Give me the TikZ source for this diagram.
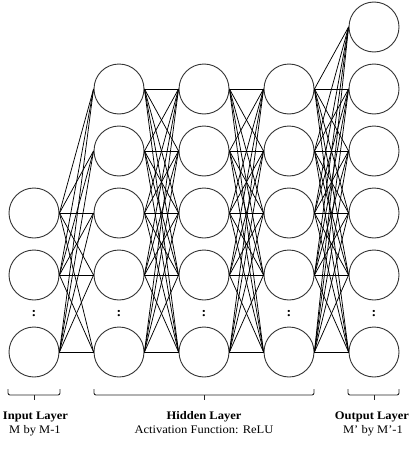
\documentclass[tikz,border=0pt]{standalone}
\usepackage{fontspec}
\setmainfont{Liberation Serif}[FakeStretch=1.08]
\begin{document}
\begin{tikzpicture}[x=1pt,y=-1pt,
  neuron/.style={circle,draw=black!80,line width=0.9pt,minimum size=50pt,inner sep=0pt},
  link/.style={draw=black,line width=0.75pt},
  dotsnode/.style={font=\fontsize{13}{13}\selectfont\bfseries,inner sep=0pt},
  bracket/.style={draw=black!85,line width=0.9pt,rounded corners=2pt},
  title/.style={font=\fontsize{11.6}{13}\selectfont\bfseries,anchor=base},
  sub/.style={font=\fontsize{11.6}{13}\selectfont,anchor=base}]
\useasboundingbox (0,0) rectangle (411,455);

% input layer
\node[neuron] (i3) at (34,213) {};
\node[neuron] (i4) at (34,275) {};
\node[neuron] (i5) at (34,352) {};
\node[dotsnode] (idots) at (34,314) {:};

% hidden layers
\foreach \c/\x in {1/119,2/204,3/289}{
  \foreach \r/\y in {1/89,2/151,3/213,4/275,5/352}{
    \node[neuron] (h\c\r) at (\x,\y) {};
  }
  \node[dotsnode] (hdots\c) at (\x,314) {:};
}

% output layer
\foreach \r/\y in {0/27,1/89,2/151,3/213,4/275,5/352}{
  \node[neuron] (o\r) at (374,\y) {};
}
\node[dotsnode] (odots) at (374,314) {:};

% connections
\foreach \a in {3,4,5}{
  \foreach \b in {1,2,3,4,5}{
    \draw[link] (i\a.east) -- (h1\b.west);
  }
}
\foreach \a in {1,2,3,4,5}{
  \foreach \b in {1,2,3,4,5}{
    \draw[link] (h1\a.east) -- (h2\b.west);
    \draw[link] (h2\a.east) -- (h3\b.west);
  }
  \foreach \b in {0,1,2,3,4,5}{
    \draw[link] (h3\a.east) -- (o\b.west);
  }
}

% brackets
\coordinate (bi1) at (8,389);  \coordinate (bi2) at (60,389);
\coordinate (bh1) at (94,389); \coordinate (bh2) at (314,389);
\coordinate (bo1) at (348,389); \coordinate (bo2) at (399,389);
\draw[bracket] (bi1) -- ++(0,6) -| (bi2);
\draw[bracket] (bh1) -- ++(0,6) -| (bh2);
\draw[bracket] (bo1) -- ++(0,6) -| (bo2);
\coordinate (ti) at (34,395); \coordinate (th) at (204,395); \coordinate (to) at (374,395);
\draw[bracket] (ti) -- ++(0,5);
\draw[bracket] (th) -- ++(0,5);
\draw[bracket] (to) -- ++(0,5);

% labels
\node[title] (lin) at (35.5,419) {Input Layer};
\node[sub] (lin2) at (35,433.5) {M by M-1};
\node[title] (lhid) at (204,419) {Hidden Layer};
\node[sub] (lhid2) at (204,433.5) {Activation Function: ReLU};
\node[title] (lout) at (372,419) {Output Layer};
\node[sub] (lout2) at (373,433.5) {M’ by M’-1};
\end{tikzpicture}
\end{document}
